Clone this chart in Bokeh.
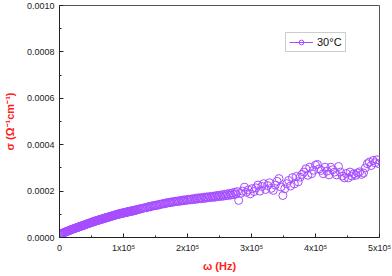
from bokeh.plotting import figure
from bokeh.models import Range1d, LegendItem, Legend, FixedTicker, ColumnDataSource
from bokeh.embed import file_html
from bokeh.resources import INLINE

# angular frequency (kHz) and conductivity (units of 1e-6 S/cm)
freq_khz = [
    1, 2, 3, 4, 5, 6, 7, 8, 9, 10, 11, 12, 13, 14, 15, 16, 17, 18, 19, 20,
    21, 22, 23, 24, 25, 26, 27, 28, 29, 30, 31, 32, 33, 34, 35, 36, 37, 38, 39, 40,
    41, 42, 43, 44, 45, 46, 47, 48, 49, 50, 51, 52, 53, 54, 55, 56, 57, 58, 59, 60,
    61, 62, 63, 64, 65, 66, 67, 68, 69, 70, 71, 72, 73, 74, 75, 76, 77, 78, 79, 80,
    81, 82, 83, 84, 85, 86, 87, 88, 89, 90, 91, 92, 93, 94, 95, 96, 97, 98, 99, 100,
    101, 102, 103, 104, 105, 106, 107, 108, 109, 110, 111, 112, 113, 114, 115, 116, 117, 118, 119, 120,
    122, 124, 126, 128, 130, 132, 134, 136, 138, 140, 142, 144, 146, 148, 150, 152, 154, 156, 158, 160,
    162, 164, 166, 168, 170, 172, 174, 176, 178, 180, 182, 184, 186, 188, 190, 192, 194, 196, 198, 200,
    202, 204, 206, 208, 210, 212, 214, 216, 218, 220, 222, 224, 226, 228, 230, 232, 234, 236, 238, 240,
    242, 244, 246, 248, 250, 252, 254, 256, 258, 260, 262, 264, 266, 268, 270, 272, 274, 276, 278, 280,
    283, 286, 289, 292, 295, 298, 301, 304, 307, 310, 313, 316, 319, 322, 325, 328,
    331, 334, 337, 340, 343, 346, 349, 352, 355, 358, 361, 364, 367, 370, 373, 376, 379, 382, 385, 388,
    391, 394, 397, 400, 403, 406, 409, 412, 415, 418, 421, 424, 427, 430, 433, 436, 439, 442, 445, 448,
    451, 454, 457, 460, 463, 466, 469, 472, 475, 478, 481, 484, 487, 490, 493, 496, 499,
]

sigma_micro = [
    14, 15, 16, 18, 18, 20, 21, 22, 24, 24, 25, 27, 27, 29, 30, 31, 33, 33, 34, 36,
    36, 37, 39, 39, 40, 42, 42, 43, 45, 45, 46, 48, 48, 49, 51, 51, 52, 54, 54, 55,
    57, 57, 58, 60, 60, 61, 63, 62, 64, 66, 65, 67, 69, 68, 70, 72, 71, 72, 74, 73,
    75, 77, 76, 78, 79, 78, 80, 82, 81, 83, 85, 83, 85, 87, 86, 88, 89, 88, 90, 92,
    91, 93, 94, 93, 95, 97, 96, 98, 99, 98, 100, 102, 100, 102, 104, 102, 104, 106, 104, 106,
    108, 106, 108, 110, 108, 110, 111, 110, 113, 111, 114, 112, 115, 116, 114, 117, 118, 116, 119, 118,
    120, 123, 122, 125, 126, 127, 129, 128, 132, 133, 132, 136, 137, 136, 139, 140, 139, 143, 142, 145,
    146, 145, 149, 148, 151, 150, 153, 151, 155, 154, 157, 155, 158, 156, 160, 158, 162, 159, 163, 161,
    165, 162, 166, 163, 168, 164, 170, 166, 171, 167, 172, 168, 174, 169, 175, 171, 176, 172, 178, 173,
    179, 174, 181, 176, 182, 177, 184, 178, 186, 180, 188, 181, 190, 183, 192, 185, 195, 187, 198, 160,
    190, 200, 217, 195, 205, 188, 210, 198, 214, 226, 200, 220, 232, 207, 224, 236,
    212, 203, 226, 242, 254, 218, 181, 210, 232, 246, 222, 258, 231, 263, 240, 260, 272, 282, 296, 268,
    303, 275, 290, 312, 315, 296, 289, 275, 303, 286, 270, 303, 292, 282, 270, 306, 282, 265, 257, 276,
    257, 282, 265, 275, 268, 278, 283, 272, 278, 300, 318, 325, 310, 332, 322, 335, 318,
]

x_ticks = [0, 100000, 200000, 300000, 400000, 500000]
x_tick_labels = ["0", "1x10\u2075", "2x10\u2075", "3x10\u2075", "4x10\u2075", "5x10\u2075"]
y_ticks = [0.0, 0.0002, 0.0004, 0.0006, 0.0008, 0.0010]
y_tick_labels = ["0.0000", "0.0002", "0.0004", "0.0006", "0.0008", "0.0010"]
series_label = "30\u00b0C"

freq_hz = [f * 1000 for f in freq_khz]
sigma = [s * 1e-6 for s in sigma_micro]

purple = "#a64dff"
font = "Liberation Sans"

p = figure(width=392, height=276, output_backend="svg", toolbar_location=None,
           x_range=Range1d(0, 500000), y_range=Range1d(0, 0.001),
           min_border_left=58, min_border_right=13, min_border_top=5, min_border_bottom=39)
p.grid.visible = False
p.outline_line_color = "#555555"
p.outline_line_width = 1

src = ColumnDataSource(dict(x=freq_hz, y=sigma))
r_sc = p.scatter("x", "y", source=src, marker="circle", size=8, fill_color=None,
                 line_color=purple, line_width=1)
r_ln = p.line(x=[float("nan")], y=[float("nan")], line_color=purple, line_width=1)

p.xaxis.ticker = FixedTicker(ticks=x_ticks, minor_ticks=[50000, 150000, 250000, 350000, 450000])
p.xaxis.major_label_overrides = {t: l for t, l in zip(x_ticks, x_tick_labels)}
p.yaxis.ticker = FixedTicker(ticks=y_ticks, minor_ticks=[0.0001, 0.0003, 0.0005, 0.0007, 0.0009])
p.yaxis.major_label_overrides = {t: l for t, l in zip(y_ticks, y_tick_labels)}

for ax in (p.xaxis[0], p.yaxis[0]):
    ax.major_tick_in = 4
    ax.major_tick_out = 0
    ax.minor_tick_in = 2
    ax.minor_tick_out = 0
    ax.axis_line_color = "#222222"
    ax.major_tick_line_color = "#222222"
    ax.minor_tick_line_color = "#222222"
    ax.major_label_text_font = font
    ax.major_label_text_font_size = "9px"
    ax.major_label_text_color = "#222222"
    ax.axis_label_text_font = font
    ax.axis_label_text_color = "#ff2020"
    ax.axis_label_text_font_style = "bold"
    ax.axis_label_text_font_size = "11px"

p.xaxis.axis_label = "\u03c9 (Hz)"
p.xaxis.major_label_standoff = 5
p.xaxis.axis_label_standoff = 4
p.yaxis.axis_label = "\u03c3 (\u03a9\u207b\u00b9cm\u207b\u00b9)"
p.yaxis.major_label_standoff = 5
p.yaxis.axis_label_standoff = 8

legend = Legend(items=[LegendItem(label=series_label, renderers=[r_ln, r_sc])],
                location=(226, 185))
legend.label_text_font = font
legend.label_text_font_size = "11px"
legend.label_text_color = "#111111"
legend.glyph_width = 24
legend.glyph_height = 12
legend.padding = 3
legend.margin = 0
legend.spacing = 0
legend.label_standoff = 4
legend.border_line_color = "#999999"
legend.border_line_width = 1
legend.background_fill_alpha = 1.0
p.add_layout(legend, "center")

open("out.html", "w").write(file_html(p, INLINE))
